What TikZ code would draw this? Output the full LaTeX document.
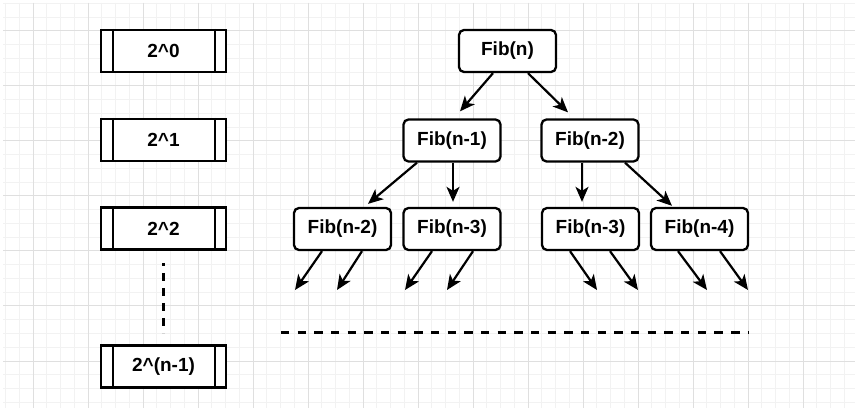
\documentclass[tikz,border=0pt]{standalone}
\usepackage{fontspec}
\setmainfont{Liberation Sans}
\usetikzlibrary{arrows.meta,calc}
\definecolor{gminor}{HTML}{F2F2F2}
\definecolor{gmajor}{HTML}{DFDFDF}
\begin{document}
\begin{tikzpicture}[x=1pt,y=-1pt,
  lbl/.style={font=\bfseries\fontsize{19}{21}\selectfont},
  fib/.style={lbl, draw, line width=2.3pt, rounded corners=5pt, minimum width=97pt, minimum height=42pt, inner sep=0pt, fill=white},
  lvl/.style={lbl, draw, line width=2.3pt, minimum width=125pt, minimum height=42pt, inner sep=0pt, fill=white},
  arr/.style={line width=2.2pt, -{Stealth[length=15pt,width=13pt,inset=4pt]}},
  dline/.style={line width=3pt},
]
\useasboundingbox (0,0) rectangle (864,411);
\fill[white] (0,0) rectangle (864,411);
% grid
\foreach \i in {0,...,61} \draw[gminor, line width=1pt] ({5.5+13.75*\i},3) -- ({5.5+13.75*\i},408);
\foreach \i in {0,...,29} \draw[gminor, line width=1pt] (3,{3.5+13.75*\i}) -- (855,{3.5+13.75*\i});
\foreach \x in {33,88,...,803} \draw[gmajor, line width=1pt] (\x,3) -- (\x,408);
\foreach \y in {31,86,...,361} \draw[gmajor, line width=1pt] (3,\y) -- (855,\y);

% left column
\node[lvl] (l0) at (163.5,51) {2\^{}0};
\node[lvl] (l1) at (163.5,140) {2\^{}1};
\node[lvl] (l2) at (163.5,228.5) {2\^{}2};
\node[lvl] (l3) at (163.5,366.5) {2\^{}(n-1)};
\foreach \n in {l0,l1,l2,l3} {
  \draw[line width=2.3pt] ($(\n.north west)+(13,0)$) -- ($(\n.south west)+(13,0)$);
  \draw[line width=2.3pt] ($(\n.north east)+(-12,0)$) -- ($(\n.south east)+(-12,0)$);
}
\coordinate (vd1) at (163,263);
\coordinate (vd2) at (163,333);
\draw[dline, dash pattern=on 8pt off 7pt, dash phase=5pt] (vd1) -- (vd2);

% tree
\node[fib] (fn) at (507.5,51) {Fib(n)};
\node[fib] (fa) at (452,140.5) {Fib(n-1)};
\node[fib] (fb) at (590,140.5) {Fib(n-2)};
\node[fib] (ga) at (342.5,229) {Fib(n-2)};
\node[fib] (gb) at (452,229) {Fib(n-3)};
\node[fib] (gc) at (590.5,229) {Fib(n-3)};
\node[fib] (gd) at (699.5,229) {Fib(n-4)};

\draw[arr] ([xshift=-14.5pt]fn.south) -- ([shift={(8,-7)}]fa.north);
\draw[arr] ([xshift=20.5pt]fn.south) -- ([shift={(-22,-6)}]fb.north);
\draw[arr] ([xshift=-35pt]fa.south) -- ([shift={(25.5,-3)}]ga.north);
\draw[arr] ([xshift=1pt]fa.south) -- ([shift={(1,-5)}]gb.north);
\draw[arr] ([xshift=-8pt]fb.south) -- ([shift={(-8.5,-5)}]gc.north);
\draw[arr] ([xshift=35pt]fb.south) -- ([shift={(-27.5,-1)}]gd.north);

% stubs
\coordinate (ea1) at (295,290); \coordinate (ea2) at (337,290);
\coordinate (eb1) at (405,290); \coordinate (eb2) at (447,290);
\coordinate (ec1) at (597,290); \coordinate (ec2) at (638,290);
\coordinate (ed1) at (707,290); \coordinate (ed2) at (748,290);
\draw[arr] ([xshift=-20.5pt]ga.south) -- (ea1);
\draw[arr] ([xshift=19.5pt]ga.south) -- (ea2);
\draw[arr] ([xshift=-20pt]gb.south) -- (eb1);
\draw[arr] ([xshift=21pt]gb.south) -- (eb2);
\draw[arr] ([xshift=-20.5pt]gc.south) -- (ec1);
\draw[arr] ([xshift=19.5pt]gc.south) -- (ec2);
\draw[arr] ([xshift=-21.5pt]gd.south) -- (ed1);
\draw[arr] ([xshift=20.5pt]gd.south) -- (ed2);

% horizontal dashed line
\coordinate (hd1) at (281,332);
\coordinate (hd2) at (748,332);
\draw[dline, dash pattern=on 8.4pt off 8.27pt] (hd1) -- (hd2);
\end{tikzpicture}
\end{document}
